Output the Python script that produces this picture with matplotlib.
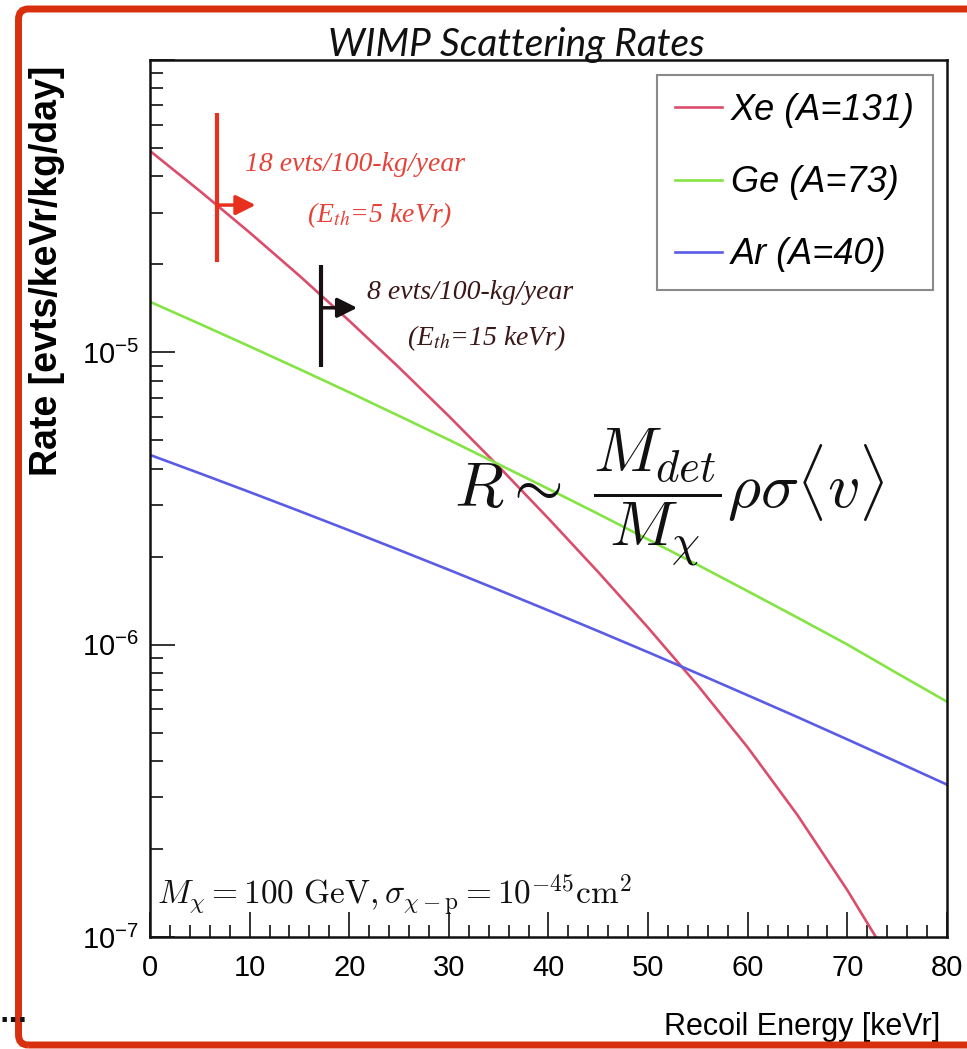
import numpy as np
import matplotlib
matplotlib.use('Agg')
import matplotlib.pyplot as plt
from matplotlib.ticker import MultipleLocator, LogLocator, FuncFormatter, NullFormatter
from matplotlib.patches import FancyBboxPatch

# recoil energy grid [keVr]
energy = [0, 5, 10, 15, 20, 25, 30, 35, 40, 45, 50, 55, 60, 65, 70, 75, 80]

# differential rates [evts/keVr/kg/day], M_chi = 100 GeV, sigma = 1e-45 cm^2
rate_xe = [4.887e-5, 3.565e-5, 2.570e-5, 1.828e-5, 1.282e-5, 8.87e-6, 6.05e-6, 4.07e-6,
           2.70e-6, 1.770e-6, 1.143e-6, 7.24e-7, 4.45e-7, 2.61e-7, 1.445e-7, 7.59e-8, 3.8e-8]
rate_ge = [1.489e-5, 1.251e-5, 1.048e-5, 8.76e-6, 7.30e-6, 6.06e-6, 5.02e-6, 4.14e-6,
           3.41e-6, 2.80e-6, 2.29e-6, 1.873e-6, 1.524e-6, 1.237e-6, 1.001e-6, 7.98e-7, 6.38e-7]
rate_ar = [4.457e-6, 3.855e-6, 3.327e-6, 2.864e-6, 2.460e-6, 2.108e-6, 1.803e-6, 1.538e-6,
           1.309e-6, 1.112e-6, 9.42e-7, 7.96e-7, 6.71e-7, 5.65e-7, 4.74e-7, 3.97e-7, 3.32e-7]

targets = ['Xe (A=131)', 'Ge (A=73)', 'Ar (A=40)']
colors = ['#da4d6b', '#84e345', '#5a5ce6']

# threshold markers: energy, vertical extent, arrow height / tip
thr_energy = [6.7, 17.2]
thr_lo = [2.04e-5, 8.9e-6]
thr_hi = [6.59e-5, 1.99e-5]
thr_arrow_y = [3.19e-5, 1.42e-5]
thr_arrow_tip = [10.6, 20.8]
thr_counts = ['18 evts/100-kg/year', '8 evts/100-kg/year']
thr_labels = ['(E$_{th}$=5 keVr)', '(E$_{th}$=15 keVr)']
thr_colors = ['#e8301e', '#161010']
thr_text_colors = ['#e5433a', '#3a1818']

SANS = ['Liberation Sans', 'DejaVu Sans']
plt.rcParams['font.family'] = SANS
plt.rcParams['mathtext.fontset'] = 'custom'
plt.rcParams['mathtext.rm'] = 'Liberation Sans'
plt.rcParams['mathtext.it'] = 'Liberation Sans:italic'
plt.rcParams['mathtext.bf'] = 'Liberation Sans:bold'

fig = plt.figure(figsize=(9.67, 10.49), dpi=100)
ax = fig.add_axes([0.1551, 0.1068, 0.8242, 0.8360])

for rate, lab, col in zip([rate_xe, rate_ge, rate_ar], targets, colors):
    ax.plot(energy, rate, color=col, lw=1.9, label=lab)

for i in range(2):
    ax.plot([thr_energy[i], thr_energy[i]], [thr_lo[i], thr_hi[i]],
            color=thr_colors[i], lw=3, solid_capstyle='butt')
    ax.annotate('', xy=(thr_arrow_tip[i], thr_arrow_y[i]),
                xytext=(thr_energy[i], thr_arrow_y[i]),
                arrowprops=dict(arrowstyle='-|>,head_length=0.6,head_width=0.3',
                                color=thr_colors[i], lw=2.5, mutation_scale=20,
                                shrinkA=0, shrinkB=0))

serif = dict(family=['Liberation Serif', 'DejaVu Serif'], style='italic',
             fontsize=20, ha='center', va='center', math_fontfamily='stix')
ax.text(20.6, 4.38e-5, thr_counts[0], color=thr_text_colors[0], **serif)
ax.text(23.1, 2.95e-5, thr_labels[0], color=thr_text_colors[0], **serif)
ax.text(32.1, 1.60e-5, thr_counts[1], color=thr_text_colors[1], **serif)
ax.text(33.8, 1.12e-5, thr_labels[1], color=thr_text_colors[1], **serif)

ax.text(52.1, 3.18e-6, r'$R\sim\ \dfrac{M_{det}}{M_\chi}\rho\sigma\langle v\rangle$',
        fontsize=46, math_fontfamily='cm', ha='center', va='center', color='#111111')
ax.text(0.009, 0.037,
        r'$M_\chi = 100\ \mathrm{GeV}, \sigma_{\chi-\mathrm{p}} = 10^{-45}\mathrm{cm}^2$',
        transform=ax.transAxes, fontsize=24, math_fontfamily='cm', va='baseline',
        color='#111111')

ax.set_yscale('log')
ax.set_xlim(0, 80)
ax.set_ylim(1e-7, 1e-4)

ax.xaxis.set_major_locator(MultipleLocator(10))
ax.xaxis.set_minor_locator(MultipleLocator(2))
ax.yaxis.set_major_locator(LogLocator(base=10))
ax.yaxis.set_minor_locator(LogLocator(base=10, subs=np.arange(2, 10)))
ax.yaxis.set_minor_formatter(NullFormatter())


def decade(v, pos):
    p = int(round(np.log10(v)))
    return '' if p == -4 else '10$^{%d}$' % p


ax.yaxis.set_major_formatter(FuncFormatter(decade))
ax.tick_params(which='both', direction='in', top=False, right=False,
               labelsize=21, color='#222222')
ax.tick_params(which='major', length=18, width=1.3)
ax.tick_params(which='minor', length=9, width=1.3)
ax.tick_params(axis='x', pad=12)
ax.tick_params(axis='y', pad=8)
for s in ax.spines.values():
    s.set_linewidth(1.8)
    s.set_color('#111111')

ax.set_xlabel('Recoil Energy [keVr]', fontsize=22, loc='right')
ax.xaxis.set_label_coords(0.991, -0.085)
ax.set_ylabel('Rate [evts/keVr/kg/day]', fontsize=27, fontweight='bold', loc='top')
ax.yaxis.set_label_coords(-0.106, 0.994)

leg = ax.legend(loc='upper right', bbox_to_anchor=(0.982, 0.983), borderaxespad=0,
                prop=dict(family=SANS, style='italic', size=26),
                handlelength=1.28, handletextpad=0.25, labelspacing=1.03,
                borderpad=0.5, fancybox=False, framealpha=1)
leg.get_frame().set_edgecolor('#8a8a8a')
leg.get_frame().set_linewidth(1.5)

fig.text(0.534, 0.947, 'WIMP Scattering Rates', ha='center', va='baseline',
         fontsize=28, style='italic', family=['Lato', 'Liberation Sans'],
         color='#111111')

# slide frame and the stray dots in the corner
frame = FancyBboxPatch((18.5 / 967, 4 / 1049), 1.05, 1 - 13 / 1049,
                       boxstyle='round,pad=0,rounding_size=0.01',
                       transform=fig.transFigure, fill=False,
                       edgecolor='#d8300f', linewidth=5, clip_on=False)
fig.add_artist(frame)
fig.text(0.0, 1 - 1022 / 1049, '...', fontsize=18, fontweight='bold',
         family=['DejaVu Sans'], color='#111111')

fig.savefig('out.png', dpi=100)
